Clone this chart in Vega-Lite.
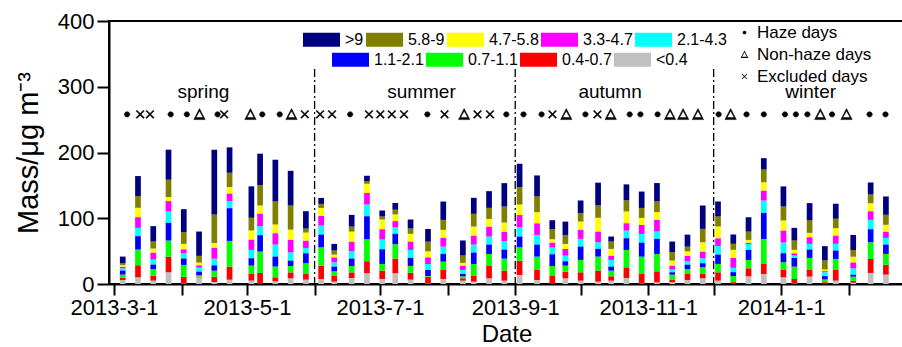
{
  "$schema": "https://vega.github.io/schema/vega-lite/v6.json",
  "autosize": {"type": "none"},
  "padding": {"left": 109, "top": 21, "right": 0, "bottom": 63},
  "width": 795,
  "height": 263,
  "background": "white",
  "config": {
    "font": "Liberation Sans",
    "view": {"stroke": "black", "strokeWidth": 2},
    "axis": {"labelFont": "Liberation Sans", "titleFont": "Liberation Sans", "labelColor": "black", "titleColor": "black", "domainColor": "black", "tickColor": "black", "titleFontWeight": "normal", "grid": false},
    "legend": {"labelFont": "Liberation Sans", "labelColor": "black"}
  },
  "datasets": {
    "bars": [
      {"date": "2013-03-05", "s9": 10.2, "s8": 2.5, "s7": 2.5, "s6": 2.5, "s5": 3.6, "s4": 6.1, "s3": 4.6, "s2": 3.6, "s1": 6.1},
      {"date": "2013-03-12", "s9": 30.5, "s8": 17.8, "s7": 14.2, "s6": 16.3, "s5": 12.7, "s4": 20.3, "s3": 23.9, "s2": 18.3, "s1": 10.2},
      {"date": "2013-03-19", "s9": 23.4, "s8": 10.7, "s7": 6.1, "s6": 10.7, "s5": 7.6, "s4": 7.1, "s3": 9.7, "s2": 7.6, "s1": 5.1},
      {"date": "2013-03-26", "s9": 45.7, "s8": 26.4, "s7": 6.1, "s6": 15.8, "s5": 17.3, "s4": 26.9, "s3": 24.4, "s2": 23.9, "s1": 17.8},
      {"date": "2013-04-02", "s9": 35, "s8": 17.8, "s7": 8.1, "s6": 6.1, "s5": 8.1, "s4": 9.7, "s3": 17.8, "s2": 10.2, "s1": 1},
      {"date": "2013-04-09", "s9": 37, "s8": 10.2, "s7": 4.1, "s6": 3.6, "s5": 6.1, "s4": 5.6, "s3": 2, "s2": 1, "s1": 10.2},
      {"date": "2013-04-16", "s9": 98.6, "s8": 43.2, "s7": 7.1, "s6": 16.8, "s5": 10.2, "s4": 8.1, "s3": 9.1, "s2": 8.1, "s1": 3},
      {"date": "2013-04-23", "s9": 38.6, "s8": 21.8, "s7": 9.7, "s6": 11.7, "s5": 10.7, "s4": 49.8, "s3": 39.1, "s2": 19.8, "s1": 6.6},
      {"date": "2013-05-03", "s9": 47.8, "s8": 19.3, "s7": 13.7, "s6": 15.8, "s5": 12.7, "s4": 11.2, "s3": 12.7, "s2": 10.2, "s1": 5.1},
      {"date": "2013-05-07", "s9": 47.8, "s8": 31, "s7": 12.2, "s6": 19.3, "s5": 13.7, "s4": 24.9, "s3": 32.5, "s2": 16.3, "s1": 0.5},
      {"date": "2013-05-14", "s9": 63.5, "s8": 35, "s7": 13.2, "s6": 17.3, "s5": 18.3, "s4": 15.2, "s3": 16.3, "s2": 6.1, "s1": 4.1},
      {"date": "2013-05-21", "s9": 52.8, "s8": 36.6, "s7": 15.2, "s6": 19.3, "s5": 12.7, "s4": 8.1, "s3": 9.7, "s2": 9.1, "s1": 8.6},
      {"date": "2013-05-28", "s9": 26.4, "s8": 6.1, "s7": 12.2, "s6": 11.2, "s5": 8.1, "s4": 15.2, "s3": 16.3, "s2": 8.6, "s1": 6.6},
      {"date": "2013-06-04", "s9": 9.1, "s8": 6.1, "s7": 12.2, "s6": 14.7, "s5": 13.7, "s4": 19.3, "s3": 27.9, "s2": 20.3, "s1": 7.6},
      {"date": "2013-06-10", "s9": 10.2, "s8": 6.1, "s7": 4.1, "s6": 7.6, "s5": 6.6, "s4": 7.1, "s3": 7.1, "s2": 8.6, "s1": 3.6},
      {"date": "2013-06-18", "s9": 17.8, "s8": 7.6, "s7": 15.2, "s6": 14.7, "s5": 11.2, "s4": 11.2, "s3": 9.7, "s2": 8.6, "s1": 9.1},
      {"date": "2013-06-25", "s9": 8.1, "s8": 4.1, "s7": 14.2, "s6": 17.3, "s5": 17.8, "s4": 35.1, "s3": 33.5, "s2": 18.3, "s1": 16.3},
      {"date": "2013-07-02", "s9": 9.1, "s8": 4.6, "s7": 14.7, "s6": 15.8, "s5": 14.7, "s4": 22.4, "s3": 10.2, "s2": 12.7, "s1": 7.6},
      {"date": "2013-07-08", "s9": 10.2, "s8": 7.1, "s7": 10.2, "s6": 9.7, "s5": 9.7, "s4": 15.8, "s3": 21.8, "s2": 22.4, "s1": 16.3},
      {"date": "2013-07-15", "s9": 13.7, "s8": 8.1, "s7": 11.7, "s6": 12.7, "s5": 12.2, "s4": 12.2, "s3": 10.2, "s2": 10.7, "s1": 6.6},
      {"date": "2013-07-23", "s9": 19.3, "s8": 14.7, "s7": 9.1, "s6": 10.2, "s5": 9.1, "s4": 9.1, "s3": 1, "s2": 10.2, "s1": 1},
      {"date": "2013-07-30", "s9": 27.9, "s8": 15.2, "s7": 12.2, "s6": 13.2, "s5": 11.2, "s4": 11.7, "s3": 12.7, "s2": 13.7, "s1": 7.6},
      {"date": "2013-08-08", "s9": 22.9, "s8": 11.2, "s7": 4.1, "s6": 6.6, "s5": 6.1, "s4": 3.6, "s3": 3, "s2": 3.6, "s1": 5.1},
      {"date": "2013-08-13", "s9": 24.4, "s8": 19.3, "s7": 13.7, "s6": 13.7, "s5": 12.2, "s4": 17.3, "s3": 18.3, "s2": 8.6, "s1": 3.6},
      {"date": "2013-08-20", "s9": 25.4, "s8": 16.8, "s7": 11.7, "s6": 15.2, "s5": 12.2, "s4": 14.2, "s3": 18.3, "s2": 18.8, "s1": 8.6},
      {"date": "2013-08-27", "s9": 35.6, "s8": 24.4, "s7": 13.7, "s6": 14.7, "s5": 12.7, "s4": 13.7, "s3": 18.3, "s2": 15.2, "s1": 5.1},
      {"date": "2013-09-03", "s9": 35.6, "s8": 26.4, "s7": 15.8, "s6": 18.8, "s5": 14.2, "s4": 16.3, "s3": 20.3, "s2": 21.8, "s1": 13.7},
      {"date": "2013-09-11", "s9": 32, "s8": 23.9, "s7": 16.8, "s6": 17.8, "s5": 14.7, "s4": 18.3, "s3": 20.3, "s2": 15.2, "s1": 6.1},
      {"date": "2013-09-18", "s9": 13.7, "s8": 15.2, "s7": 5.1, "s6": 7.6, "s5": 10.2, "s4": 17.8, "s3": 15.2, "s2": 11.7, "s1": 0.5},
      {"date": "2013-09-24", "s9": 20.3, "s8": 13.7, "s7": 7.6, "s6": 10.2, "s5": 8.6, "s4": 6.6, "s3": 9.1, "s2": 10.2, "s1": 8.6},
      {"date": "2013-10-01", "s9": 19.3, "s8": 12.7, "s7": 12.7, "s6": 13.7, "s5": 11.7, "s4": 20.3, "s3": 18.8, "s2": 12.7, "s1": 5.1},
      {"date": "2013-10-09", "s9": 34.6, "s8": 18.8, "s7": 20.8, "s6": 16.3, "s5": 10.2, "s4": 11.7, "s3": 21.3, "s2": 16.8, "s1": 3.6},
      {"date": "2013-10-15", "s9": 7.6, "s8": 11.2, "s7": 10.2, "s6": 6.6, "s5": 10.2, "s4": 6.1, "s3": 8.6, "s2": 6.6, "s1": 5.1},
      {"date": "2013-10-22", "s9": 24.4, "s8": 16.8, "s7": 17.8, "s6": 11.2, "s5": 11.7, "s4": 17.8, "s3": 26.4, "s2": 16.3, "s1": 9.1},
      {"date": "2013-10-29", "s9": 24.9, "s8": 15.2, "s7": 10.7, "s6": 13.7, "s5": 13.2, "s4": 21.3, "s3": 26.4, "s2": 14.2, "s1": 1},
      {"date": "2013-11-05", "s9": 27.9, "s8": 16.3, "s7": 11.7, "s6": 17.8, "s5": 11.2, "s4": 22.9, "s3": 26.4, "s2": 16.8, "s1": 2.5},
      {"date": "2013-11-12", "s9": 16.3, "s8": 12.7, "s7": 7.6, "s6": 6.1, "s5": 4.1, "s4": 3.6, "s3": 8.1, "s2": 3.6, "s1": 2.5},
      {"date": "2013-11-19", "s9": 18.3, "s8": 7.1, "s7": 6.6, "s6": 8.6, "s5": 5.1, "s4": 6.6, "s3": 7.6, "s2": 9.1, "s1": 6.1},
      {"date": "2013-11-26", "s9": 35.6, "s8": 20.3, "s7": 14.2, "s6": 10.2, "s5": 7.6, "s4": 6.1, "s3": 10.2, "s2": 6.6, "s1": 8.6},
      {"date": "2013-12-03", "s9": 22.9, "s8": 15.2, "s7": 17.8, "s6": 11.7, "s5": 13.2, "s4": 14.2, "s3": 12.7, "s2": 12.7, "s1": 5.1},
      {"date": "2013-12-10", "s9": 14.2, "s8": 9.1, "s7": 12.2, "s6": 15.2, "s5": 6.6, "s4": 6.1, "s3": 9.1, "s2": 2.5, "s1": 0.3},
      {"date": "2013-12-17", "s9": 21.8, "s8": 12.7, "s7": 4.1, "s6": 2, "s5": 9.1, "s4": 15.2, "s3": 12.7, "s2": 12.2, "s1": 11.7},
      {"date": "2013-12-24", "s9": 17.3, "s8": 19.3, "s7": 12.7, "s6": 15.2, "s5": 18.8, "s4": 39.6, "s3": 38.1, "s2": 15.2, "s1": 15.2},
      {"date": "2014-01-02", "s9": 30.5, "s8": 21.3, "s7": 15.2, "s6": 18.3, "s5": 16.3, "s4": 13.7, "s3": 11.7, "s2": 11.2, "s1": 10.2},
      {"date": "2014-01-07", "s9": 19.3, "s8": 14.2, "s7": 5.1, "s6": 3.6, "s5": 3.6, "s4": 13.2, "s3": 18.8, "s2": 6.6, "s1": 1},
      {"date": "2014-01-14", "s9": 26.4, "s8": 18.8, "s7": 6.6, "s6": 10.2, "s5": 8.6, "s4": 12.7, "s3": 18.3, "s2": 10.2, "s1": 11.2},
      {"date": "2014-01-21", "s9": 21.8, "s8": 13.7, "s7": 2.5, "s6": 1.5, "s5": 6.1, "s4": 5.1, "s3": 4.1, "s2": 2.5, "s1": 0.3},
      {"date": "2014-01-26", "s9": 22.9, "s8": 14.2, "s7": 11.2, "s6": 12.7, "s5": 10.2, "s4": 12.7, "s3": 16.8, "s2": 16.3, "s1": 5.1},
      {"date": "2014-02-03", "s9": 22.9, "s8": 10.2, "s7": 8.6, "s6": 9.1, "s5": 9.7, "s4": 3, "s3": 6.1, "s2": 3, "s1": 2},
      {"date": "2014-02-11", "s9": 18.3, "s8": 13.2, "s7": 12.2, "s6": 13.2, "s5": 14.2, "s4": 19.8, "s3": 25.4, "s2": 21.3, "s1": 16.8},
      {"date": "2014-02-18", "s9": 27.9, "s8": 15.2, "s7": 10.2, "s6": 9.7, "s5": 10.2, "s4": 14.2, "s3": 16.3, "s2": 15.2, "s1": 14.2}
    ],
    "days": [
      {"date": "2013-03-07T00:00:00Z", "type": "Haze days"},
      {"date": "2013-03-13T00:00:00Z", "type": "Excluded days"},
      {"date": "2013-03-17T12:00:00Z", "type": "Excluded days"},
      {"date": "2013-03-27T00:00:00Z", "type": "Haze days"},
      {"date": "2013-04-03T10:00:00Z", "type": "Haze days"},
      {"date": "2013-04-09T05:00:00Z", "type": "Non-haze days"},
      {"date": "2013-04-17T12:00:00Z", "type": "Haze days"},
      {"date": "2013-04-20T12:00:00Z", "type": "Excluded days"},
      {"date": "2013-05-02T14:00:00Z", "type": "Non-haze days"},
      {"date": "2013-05-08T00:00:00Z", "type": "Haze days"},
      {"date": "2013-05-16T00:00:00Z", "type": "Haze days"},
      {"date": "2013-05-21T10:00:00Z", "type": "Non-haze days"},
      {"date": "2013-05-27T12:00:00Z", "type": "Excluded days"},
      {"date": "2013-06-03T12:00:00Z", "type": "Excluded days"},
      {"date": "2013-06-09T00:00:00Z", "type": "Excluded days"},
      {"date": "2013-06-17T07:00:00Z", "type": "Haze days"},
      {"date": "2013-06-25T22:00:00Z", "type": "Excluded days"},
      {"date": "2013-07-01T03:00:00Z", "type": "Excluded days"},
      {"date": "2013-07-06T10:00:00Z", "type": "Excluded days"},
      {"date": "2013-07-12T00:00:00Z", "type": "Excluded days"},
      {"date": "2013-07-22T17:00:00Z", "type": "Haze days"},
      {"date": "2013-07-30T14:00:00Z", "type": "Excluded days"},
      {"date": "2013-08-08T14:00:00Z", "type": "Non-haze days"},
      {"date": "2013-08-14T17:00:00Z", "type": "Excluded days"},
      {"date": "2013-08-20T10:00:00Z", "type": "Excluded days"},
      {"date": "2013-08-27T22:00:00Z", "type": "Haze days"},
      {"date": "2013-09-04T19:00:00Z", "type": "Haze days"},
      {"date": "2013-09-13T02:00:00Z", "type": "Haze days"},
      {"date": "2013-09-18T02:00:00Z", "type": "Excluded days"},
      {"date": "2013-09-24T10:00:00Z", "type": "Non-haze days"},
      {"date": "2013-10-03T05:00:00Z", "type": "Haze days"},
      {"date": "2013-10-08T17:00:00Z", "type": "Excluded days"},
      {"date": "2013-10-14T19:00:00Z", "type": "Non-haze days"},
      {"date": "2013-10-23T12:00:00Z", "type": "Haze days"},
      {"date": "2013-10-28T10:00:00Z", "type": "Haze days"},
      {"date": "2013-11-05T07:00:00Z", "type": "Haze days"},
      {"date": "2013-11-11T00:00:00Z", "type": "Non-haze days"},
      {"date": "2013-11-17T00:00:00Z", "type": "Non-haze days"},
      {"date": "2013-11-23T19:00:00Z", "type": "Non-haze days"},
      {"date": "2013-12-03T07:00:00Z", "type": "Haze days"},
      {"date": "2013-12-08T19:00:00Z", "type": "Non-haze days"},
      {"date": "2013-12-16T02:00:00Z", "type": "Haze days"},
      {"date": "2013-12-24T00:00:00Z", "type": "Haze days"},
      {"date": "2014-01-02T17:00:00Z", "type": "Haze days"},
      {"date": "2014-01-07T17:00:00Z", "type": "Haze days"},
      {"date": "2014-01-13T00:00:00Z", "type": "Haze days"},
      {"date": "2014-01-18T22:00:00Z", "type": "Non-haze days"},
      {"date": "2014-01-24T07:00:00Z", "type": "Haze days"},
      {"date": "2014-01-30T22:00:00Z", "type": "Non-haze days"},
      {"date": "2014-02-10T12:00:00Z", "type": "Haze days"},
      {"date": "2014-02-17T19:00:00Z", "type": "Haze days"}
    ],
    "seasons": [
      {"date": "2013-04-11T00:00:00Z", "name": "spring"},
      {"date": "2013-07-20T00:00:00Z", "name": "summer"},
      {"date": "2013-10-14T12:00:00Z", "name": "autumn"},
      {"date": "2014-01-14T12:00:00Z", "name": "winter"}
    ],
    "bounds": [
      {"date": "2013-06-01T00:00:00Z"},
      {"date": "2013-09-01T00:00:00Z"},
      {"date": "2013-12-01T00:00:00Z"}
    ]
  },
  "encoding": {
    "x": {
      "field": "date", "type": "temporal",
      "scale": {"type": "utc", "domain": [{"year": 2013, "month": 3, "date": 1, "utc": true}, {"year": 2014, "month": 2, "date": 24, "utc": true}]},
      "axis": {
        "title": "Date", "titleFontSize": 24, "titlePadding": 4,
        "values": [
          {"year": 2013, "month": 3, "date": 1, "utc": true},
          {"year": 2013, "month": 4, "date": 1, "utc": true},
          {"year": 2013, "month": 5, "date": 1, "utc": true},
          {"year": 2013, "month": 6, "date": 1, "utc": true},
          {"year": 2013, "month": 7, "date": 1, "utc": true},
          {"year": 2013, "month": 8, "date": 1, "utc": true},
          {"year": 2013, "month": 9, "date": 1, "utc": true},
          {"year": 2013, "month": 10, "date": 1, "utc": true},
          {"year": 2013, "month": 11, "date": 1, "utc": true},
          {"year": 2013, "month": 12, "date": 1, "utc": true},
          {"year": 2014, "month": 1, "date": 1, "utc": true},
          {"year": 2014, "month": 2, "date": 1, "utc": true}
        ],
        "labelExpr": "utcmonth(datum.value) % 2 === 0 ? utcFormat(datum.value, '%Y-%-m-%-d') : ''",
        "tickSize": 11,
        "encode": {"ticks": {"update": {"y2": {"signal": "utcmonth(datum.value) % 2 === 0 ? 11 : 6"}}}},
        "labelFontSize": 22, "labelPadding": 2, "tickWidth": 2, "domainWidth": 2, "labelFlush": false, "labelOverlap": false
      }
    }
  },
  "layer": [
    {
      "data": {"name": "bars"},
      "transform": [
        {"fold": ["s1", "s2", "s3", "s4", "s5", "s6", "s7", "s8", "s9"], "as": ["cls", "mass"]},
        {"stack": "mass", "groupby": ["date"], "sort": [{"field": "cls", "order": "ascending"}], "as": ["m0", "m1"]}
      ],
      "resolve": {"scale": {"color": "independent"}},
      "encoding": {
        "y": {
          "field": "m1", "type": "quantitative",
          "scale": {"domain": [0, 400], "nice": false},
          "axis": {
            "title": "Mass/μg m⁻³", "titleFontSize": 29, "titlePadding": 14,
            "values": [0, 50, 100, 150, 200, 250, 300, 350, 400],
            "labelExpr": "datum.value % 100 === 0 ? datum.label : ''",
            "tickSize": 12,
            "encode": {"ticks": {"update": {"x2": {"signal": "datum.value % 100 === 0 ? -12 : -6"}}}},
            "labelFontSize": 22, "labelPadding": 3, "tickWidth": 2, "domainWidth": 2, "labelFlush": false, "labelOverlap": false
          }
        },
        "y2": {"field": "m0"},
        "order": {"field": "cls", "sort": "ascending"}
      },
      "layer": [
        {
          "transform": [{"filter": {"field": "cls", "oneOf": ["s5", "s6", "s7", "s8", "s9"]}}],
          "mark": {"type": "bar", "size": 5.7},
          "encoding": {
            "color": {
              "field": "cls", "type": "nominal",
              "scale": {"domain": ["s9", "s8", "s7", "s6", "s5"], "range": ["#000080", "#808000", "#FFFF00", "#FF00FF", "#00FFFF"]},
              "legend": {
                "title": null, "orient": "none", "direction": "horizontal", "legendX": 194, "legendY": 0, "padding": 0,
                "symbolType": "M-1,-0.38H1V0.38H-1Z", "symbolSize": 1369, "symbolStrokeWidth": 0,
                "labelFontSize": 16, "labelOffset": 5, "columnPadding": 2,
                "labelExpr": "{'s9': '>9', 's8': '5.8-9', 's7': '4.7-5.8', 's6': '3.3-4.7', 's5': '2.1-4.3'}[datum.value]"
              }
            }
          }
        },
        {
          "transform": [{"filter": {"field": "cls", "oneOf": ["s1", "s2", "s3", "s4"]}}],
          "mark": {"type": "bar", "size": 5.7},
          "encoding": {
            "color": {
              "field": "cls", "type": "nominal",
              "scale": {"domain": ["s4", "s3", "s2", "s1"], "range": ["#0000FF", "#00FF00", "#FF0000", "#C0C0C0"]},
              "legend": {
                "title": null, "orient": "none", "direction": "horizontal", "legendX": 223, "legendY": 20, "padding": 0,
                "symbolType": "M-1,-0.38H1V0.38H-1Z", "symbolSize": 1369, "symbolStrokeWidth": 0,
                "labelFontSize": 16, "labelOffset": 5, "columnPadding": 2,
                "labelExpr": "{'s4': '1.1-2.1', 's3': '0.7-1.1', 's2': '0.4-0.7', 's1': '<0.4'}[datum.value]"
              }
            }
          }
        }
      ]
    },
    {
      "data": {"name": "bounds"},
      "mark": {"type": "rule", "color": "black", "strokeWidth": 1.3, "strokeDash": [8, 3, 2, 3]},
      "encoding": {
        "y": {"datum": 327, "type": "quantitative"},
        "y2": {"datum": 0}
      }
    },
    {
      "data": {"name": "seasons"},
      "mark": {"type": "text", "fontSize": 19, "color": "black", "baseline": "middle", "align": "center"},
      "encoding": {
        "y": {"datum": 292, "type": "quantitative"},
        "text": {"field": "name"}
      }
    },
    {
      "data": {"name": "days"},
      "mark": {"type": "point", "filled": true, "color": "black", "stroke": "black", "strokeWidth": 0.5, "size": 110, "opacity": 1},
      "encoding": {
        "y": {"datum": 258, "type": "quantitative"},
        "shape": {
          "field": "type", "type": "nominal",
          "scale": {
            "domain": ["Haze days", "Non-haze days", "Excluded days"],
            "range": [
              "M-0.52,0A0.52,0.52 0 1,0 0.52,0A0.52,0.52 0 1,0 -0.52,0Z",
              "M0,-1.1L1.08,1L-1.08,1ZM0,-0.64L-0.68,0.62L0.68,0.62Z",
              "M-0.62,-0.78L0.78,0.62L0.62,0.78L-0.78,-0.62ZM-0.62,0.78L-0.78,0.62L0.62,-0.78L0.78,-0.62Z"
            ]
          },
          "legend": {
            "title": null, "orient": "none", "legendX": 627, "legendY": 3, "padding": 0,
            "symbolSize": 50, "symbolFillColor": "black", "symbolStrokeColor": "black", "symbolStrokeWidth": 0.5,
            "labelFontSize": 17, "labelOffset": 4, "rowPadding": 4
          }
        }
      }
    }
  ]
}
